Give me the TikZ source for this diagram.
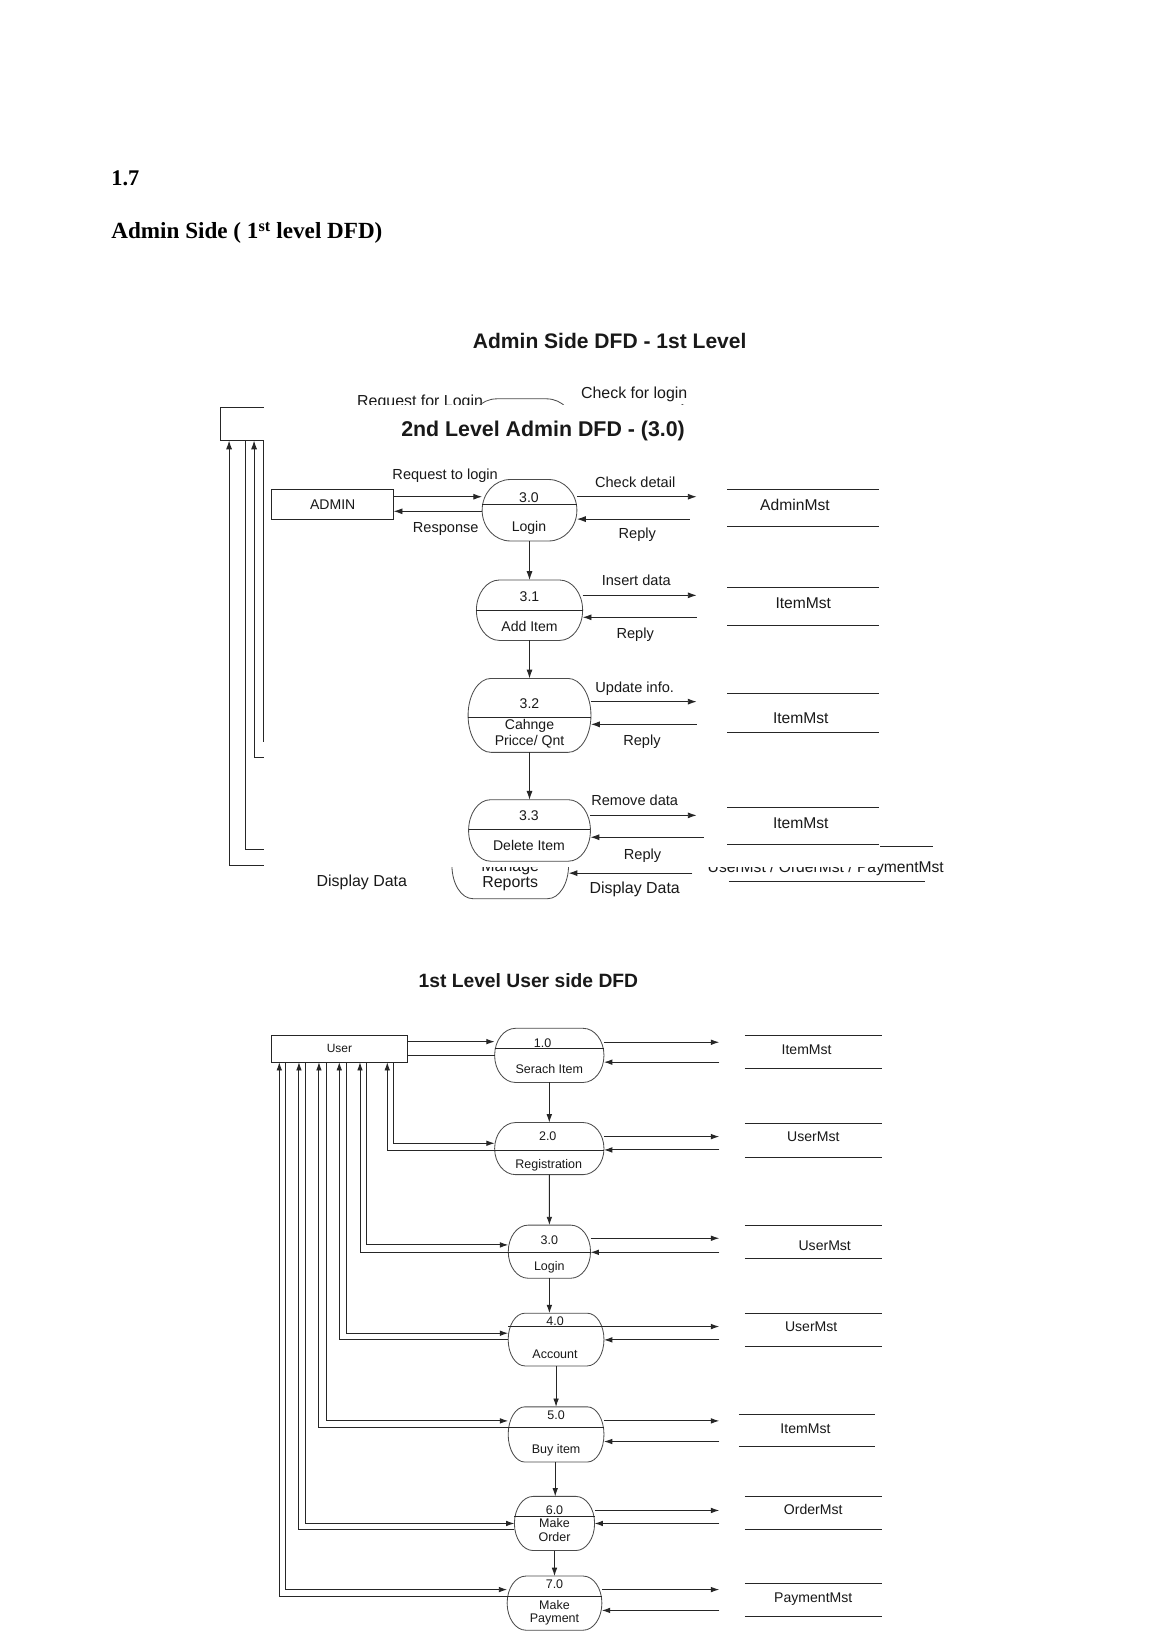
\documentclass[tikz,border=0pt]{standalone}
\usepackage{fontspec}
\setmainfont{Liberation Sans}
\newfontfamily\hdserif{Liberation Serif}
\usetikzlibrary{arrows.meta,calc}
\newcommand{\fsz}[1]{\fontsize{#1}{#1}\selectfont}
% flat-topped oval drawn round a placeholder node
\newcommand{\procoval}[2]{%
  \draw[procline] let \p1=(#1.north west), \p2=(#1.south east) in
    (\x1+#2pt,\y1) -- (\x2-#2pt,\y1)
    arc[start angle=90,end angle=-90,x radius=#2pt,y radius={(\y1-\y2)/2}]
    -- (\x1+#2pt,\y2)
    arc[start angle=270,end angle=90,x radius=#2pt,y radius={(\y1-\y2)/2}]
    -- cycle;}
\newcommand{\chordat}[2]{\draw[ln] (#1.west |- 0,#2) -- (#1.east |- 0,#2);}
\newcommand{\storelines}[1]{\draw[ln] (#1.north west) -- (#1.north east) (#1.south west) -- (#1.south east);}
\begin{document}
\begin{tikzpicture}[x=1pt,y=-1pt,
  ln/.style={line width=0.9pt, draw=black!85},
  arr/.style={ln, -{Latex[length=8.5pt,width=5.8pt]}},
  uarr/.style={ln, -{Latex[length=8pt,width=5.4pt]}},
  procline/.style={line width=0.8pt, draw=black!70},
  hold/.style={rectangle, draw=none, inner sep=0pt, outer sep=0pt},
  boxn/.style={rectangle, draw=black!85, line width=0.9pt, inner sep=0pt, outer sep=0pt, text=black!90},
  txt/.style={anchor=base, inner sep=0pt, outer sep=0pt, text=black!90},
  lab/.style={txt, font=\fsz{14}},
  ptx/.style={txt, font=\fsz{13.5}},
  stx/.style={txt, font=\fsz{15}},
  utx/.style={txt, font=\fsz{12}},
  ust/.style={txt, font=\fsz{13.5}}]
\fill[white] (0,0) rectangle (1112,1573);
\path[use as bounding box] (0,0) rectangle (1112,1573);

% ---------------- header ----------------
\node[txt, anchor=base west, text=black, font=\hdserif\bfseries\fsz{21.5}] (h17) at (107,178) {1.7};
\node[txt, anchor=base west, text=black, font=\hdserif\bfseries\fsz{22.2}] (hadm) at (107,229.5) {Admin Side ( 1\textsuperscript{st} level DFD)};

% ---------------- 1st level admin (mostly covered) ----------------
\node[txt, font=\bfseries\fsz{20.2}] (t1title) at (585.5,334.4) {Admin Side DFD - 1st Level};
\node[txt, anchor=base west, font=\fsz{15.3}] (t1req) at (343,390.5) {Request for Login};
\node[txt, anchor=base west, font=\fsz{15.3}] (t1chk) at (558,382.5) {Check for login};
\node[boxn, minimum width=118pt, minimum height=32pt] (a1box) at (271,407) {};
\node[hold, minimum width=102pt, minimum height=58pt] (a1p1) at (501,412) {};
\procoval{a1p1}{27}
\coordinate (a1chkend) at (663,390.8);
\draw[arr] (a1p1.east |- 0,390.8) -- (a1chkend);
\node[hold, minimum width=112pt, minimum height=64pt] (a1mr) at (490,831) {};
\procoval{a1mr}{20}
\node[txt, font=\fsz{15.3}] (t1man) at (490,836.5) {Manage};
\node[txt, font=\fsz{15.3}] (t1rep) at (490,852) {Reports};
\node[hold, minimum width=196pt, minimum height=33.5pt] (a1st) at (798,829.75) {};
\draw[ln] (a1st.north west) -- (a1st.north east);
\draw[ln] (a1st.south west) -- ([xshift=-8pt]a1st.south east);
\node[txt, font=\fsz{15}] (t1ums) at (793,837.5) {UserMst / OrderMst / PaymentMst};
\draw[arr, shorten <=35pt] (a1st.west |- 0,838.5) -- (a1mr.east |- 0,838.5);
\node[txt, font=\fsz{15.3}] (t1dd1) at (347.5,851.5) {Display Data};
\node[txt, font=\fsz{15.3}] (t1dd2) at (609.5,858.5) {Display Data};
\coordinate (a1h2) at (300,815.6);
\coordinate (a1h3) at (300,727.6);
\coordinate (a1h4) at (300,711.6);
\draw[arr] (a1mr.west) -| (a1box.south -| 220,0);
\draw[ln] (a1box.south -| 235.5,0) |- (a1h2);
\draw[arr] (a1h3) -| (a1box.south -| 244,0);
\draw[ln] (a1box.south -| 252.8,0) |- (a1h4);

% overlay picture (2nd level) covers part of the 1st level
\fill[white] (253.5,389) rectangle (845,833);

% ---------------- 2nd level admin DFD ----------------
\node[txt, font=\bfseries\fsz{20.5}] (t2title) at (521.5,419) {2nd Level Admin DFD - (3.0)};
\node[boxn, minimum width=117pt, minimum height=28.5pt, font=\fsz{13.5}] (admin) at (319.5,484.25) {ADMIN};

\node[hold, minimum width=91pt, minimum height=59pt] (p30) at (508.5,490) {};
\node[hold, minimum width=102pt, minimum height=58pt] (p31) at (508.5,586) {};
\node[hold, minimum width=118pt, minimum height=71pt] (p32) at (508.5,687) {};
\node[hold, minimum width=117pt, minimum height=59pt] (p33) at (508.5,797.5) {};
\procoval{p30}{27}
\procoval{p31}{22}
\procoval{p32}{22}
\procoval{p33}{21}
\chordat{p30}{484}
\chordat{p31}{585.8}
\chordat{p32}{689}
\chordat{p33}{797}
\node[ptx] (t30a) at (508,482.8) {3.0};
\node[ptx] (t30b) at (508,510.5) {Login};
\node[ptx] (t31a) at (508.5,577.5) {3.1};
\node[ptx] (t31b) at (508.5,606.5) {Add Item};
\node[ptx] (t32a) at (508.5,680) {3.2};
\node[ptx] (t32b) at (508.5,700.5) {Cahnge};
\node[ptx] (t32c) at (508.5,715.5) {Pricce/ Qnt};
\node[ptx] (t33a) at (508,788) {3.3};
\node[ptx] (t33b) at (508,817) {Delete Item};

\draw[arr] (p30.south) -- (p31.north);
\draw[arr] (p31.south) -- (p32.north);
\draw[arr] (p32.south) -- (p33.north);

\draw[arr] (admin.east |- 0,477) -- (p30.west |- 0,477);
\draw[arr] (p30.west |- 0,491) -- (admin.east |- 0,491);
\node[lab] (l1) at (427.5,460.5) {Request to login};
\node[lab] (l2) at (428,511) {Response};

\node[hold, minimum width=145.9pt, minimum height=36.1pt] (sAd) at (771.45,487.65) {};
\node[hold, minimum width=145.9pt, minimum height=36.8pt] (sI1) at (771.45,582.4) {};
\node[hold, minimum width=145.9pt, minimum height=38pt] (sI2) at (771.45,684.5) {};
\node[hold, minimum width=145.9pt, minimum height=36pt] (sI3) at (771.45,793) {};
\storelines{sAd}
\storelines{sI1}
\storelines{sI2}
\storelines{sI3}
\node[stx] (tAd) at (763.4,490.4) {AdminMst};
\node[stx] (tI1) at (771.4,584.7) {ItemMst};
\node[stx] (tI2) at (769,695) {ItemMst};
\node[stx] (tI3) at (769,795.4) {ItemMst};

\draw[arr, shorten >=29.5pt] (p30.east |- 0,477) -- (sAd.west |- 0,477);
\draw[arr, shorten <=36pt] (sAd.west |- 0,498.5) -- (p30.east |- 0,498.5);
\draw[arr, shorten >=29.5pt] (p31.east |- 0,571.7) -- (sI1.west |- 0,571.7);
\draw[arr, shorten <=29.5pt] (sI1.west |- 0,592.8) -- (p31.east |- 0,592.8);
\draw[arr, shorten >=29.5pt] (p32.east |- 0,673.8) -- (sI2.west |- 0,673.8);
\draw[arr, shorten <=29.5pt] (sI2.west |- 0,695.6) -- (p32.east |- 0,695.6);
\draw[arr, shorten >=29.5pt] (p33.east |- 0,783) -- (sI3.west |- 0,783);
\draw[arr, shorten <=22.5pt] (sI3.west |- 0,804) -- (p33.east |- 0,804);

\node[lab] (l3) at (610,467.7) {Check detail};
\node[lab] (l4) at (612,517) {Reply};
\node[lab] (l5) at (611,562) {Insert data};
\node[lab] (l6) at (610,613) {Reply};
\node[lab] (l7) at (609.5,664.6) {Update info.};
\node[lab] (l8) at (616.5,716) {Reply};
\node[lab] (l9) at (609.5,774) {Remove data};
\node[lab] (l10) at (617,825) {Reply};

% ---------------- 1st level user side DFD ----------------
\node[txt, font=\bfseries\fsz{18.5}] (t3title) at (507.4,948.5) {1st Level User side DFD};
\node[boxn, minimum width=130pt, minimum height=26pt, font=\fsz{11.5}] (user) at (326,1007) {User};

\node[hold, minimum width=105pt, minimum height=52pt] (u1) at (527.5,1013.5) {};
\node[hold, minimum width=105pt, minimum height=50pt] (u2) at (527.5,1103) {};
\node[hold, minimum width=79pt, minimum height=51pt] (u3) at (527.6,1202) {};
\node[hold, minimum width=92pt, minimum height=50.6pt] (u4) at (534,1286.4) {};
\node[hold, minimum width=92pt, minimum height=53pt] (u5) at (534,1377.5) {};
\node[hold, minimum width=77pt, minimum height=52pt] (u6) at (532.5,1463) {};
\node[hold, minimum width=91pt, minimum height=52pt] (u7) at (532.5,1539.5) {};
\procoval{u1}{20}
\procoval{u2}{20}
\procoval{u3}{19}
\procoval{u4}{16}
\procoval{u5}{16}
\procoval{u6}{18}
\procoval{u7}{18}
\chordat{u1}{1007}
\chordat{u2}{1104.9}
\chordat{u3}{1202.6}
\chordat{u4}{1273.9}
\chordat{u5}{1370.9}
\chordat{u6}{1456}
\chordat{u7}{1532.8}

\node[utx] (tu1a) at (521,1005.5) {1.0};
\node[utx] (tu1b) at (527.5,1031) {Serach Item};
\node[utx] (tu2a) at (526,1095.5) {2.0};
\node[utx] (tu2b) at (527,1122) {Registration};
\node[utx] (tu3a) at (527.5,1195) {3.0};
\node[utx] (tu3b) at (527.5,1220.5) {Login};
\node[utx] (tu4a) at (533,1272.5) {4.0};
\node[utx] (tu4b) at (533,1304.5) {Account};
\node[utx] (tu5a) at (534,1363) {5.0};
\node[utx] (tu5b) at (534,1396) {Buy item};
\node[utx] (tu6a) at (532.5,1454.3) {6.0};
\node[utx] (tu6b) at (532.5,1467.3) {Make};
\node[utx] (tu6c) at (532.5,1480.3) {Order};
\node[utx] (tu7a) at (532.5,1525.8) {7.0};
\node[utx] (tu7b) at (532.5,1545.3) {Make};
\node[utx] (tu7c) at (532.5,1558.3) {Payment};

% vertical flow
\draw[uarr] (u1.south) -- (u2.north);
\draw[uarr] (u2.south) -- (u3.north);
\draw[uarr] (u3.south) -- (u4.north -| u3.south);
\draw[uarr] (u4.south) -- (u5.north);
\draw[uarr] (u5.south -| 533.2,0) -- (u6.north -| 533.2,0);
\draw[uarr] (u6.south) -- (u7.north);

% user <-> processes
\draw[uarr] (user.east |- 0,1000.3) -- (u1.west |- 0,1000.3);
\draw[ln] (u1.west |- 0,1013.4) -- (user.east |- 0,1013.4);
\draw[uarr] (user.south -| 378.3,0) |- (u2.west |- 0,1097.9);
\draw[uarr] (u2.west |- 0,1104.9) -| (user.south -| 371.9,0);
\draw[uarr] (user.south -| 352.1,0) |- (u3.west |- 0,1195.5);
\draw[uarr] (u3.west |- 0,1202.6) -| (user.south -| 345.7,0);
\draw[uarr] (user.south -| 332.9,0) |- (u4.west |- 0,1280.3);
\draw[uarr] (u4.west |- 0,1286.7) -| (user.south -| 325.8,0);
\draw[uarr] (user.south -| 313.7,0) |- (u5.west |- 0,1364.5);
\draw[uarr] (u5.west |- 0,1370.9) -| (user.south -| 306.3,0);
\draw[uarr] (user.south -| 293.8,0) |- (u6.west |- 0,1463);
\draw[uarr] (u6.west |- 0,1469) -| (user.south -| 287.1,0);
\draw[uarr] (user.south -| 274.6,0) |- (u7.west |- 0,1526.5);
\draw[uarr] (u7.west |- 0,1532.8) -| (user.south -| 268.2,0);

% data stores
\node[hold, minimum width=131.2pt, minimum height=32pt] (us1) at (781,1009.9) {};
\node[hold, minimum width=131.2pt, minimum height=32.6pt] (us2) at (781,1095) {};
\node[hold, minimum width=131.2pt, minimum height=32pt] (us3) at (781,1192.5) {};
\node[hold, minimum width=131.2pt, minimum height=32pt] (us4) at (781,1277) {};
\node[hold, minimum width=130.5pt, minimum height=31pt] (us5) at (774.75,1374) {};
\node[hold, minimum width=131.2pt, minimum height=32pt] (us6) at (781,1453) {};
\node[hold, minimum width=131.2pt, minimum height=32pt] (us7) at (781,1536.5) {};
\storelines{us1}
\storelines{us2}
\storelines{us3}
\storelines{us4}
\storelines{us5}
\storelines{us6}
\storelines{us7}
\node[ust] (tus1) at (774.6,1012.5) {ItemMst};
\node[ust] (tus2) at (781,1096.3) {UserMst};
\node[ust] (tus3) at (792,1201.3) {UserMst};
\node[ust] (tus4) at (779,1278.8) {UserMst};
\node[ust] (tus5) at (773.5,1376.3) {ItemMst};
\node[ust] (tus6) at (781,1454.8) {OrderMst};
\node[ust] (tus7) at (781,1539.3) {PaymentMst};

% processes <-> stores
\draw[uarr, shorten >=24.7pt] (u1.east |- 0,1000.9) -- (us1.west |- 0,1000.9);
\draw[uarr, shorten <=24.7pt] (us1.west |- 0,1020) -- (u1.east |- 0,1020);
\draw[uarr, shorten >=24.7pt] (u2.east |- 0,1091.5) -- (us2.west |- 0,1091.5);
\draw[uarr, shorten <=24.7pt] (us2.west |- 0,1104.3) -- (u2.east |- 0,1104.3);
\draw[uarr, shorten >=24.7pt] (u3.east |- 0,1189.1) -- (us3.west |- 0,1189.1);
\draw[uarr, shorten <=24.7pt] (us3.west |- 0,1202.6) -- (u3.east |- 0,1202.6);
\draw[uarr, shorten >=24.7pt] (u4.east |- 0,1273.9) -- (us4.west |- 0,1273.9);
\draw[uarr, shorten <=24.7pt] (us4.west |- 0,1286.7) -- (u4.east |- 0,1286.7);
\draw[uarr, shorten >=18.8pt] (u5.east |- 0,1364.5) -- (us5.west |- 0,1364.5);
\draw[uarr, shorten <=18.8pt] (us5.west |- 0,1384.3) -- (u5.east |- 0,1384.3);
\draw[uarr, shorten >=24.7pt] (u6.east |- 0,1450.5) -- (us6.west |- 0,1450.5);
\draw[uarr, shorten <=24.7pt] (us6.west |- 0,1463) -- (u6.east |- 0,1463);
\draw[uarr, shorten >=24.7pt] (u7.east |- 0,1526.5) -- (us7.west |- 0,1526.5);
\draw[uarr, shorten <=24.7pt] (us7.west |- 0,1546.5) -- (u7.east |- 0,1546.5);
\end{tikzpicture}
\end{document}
